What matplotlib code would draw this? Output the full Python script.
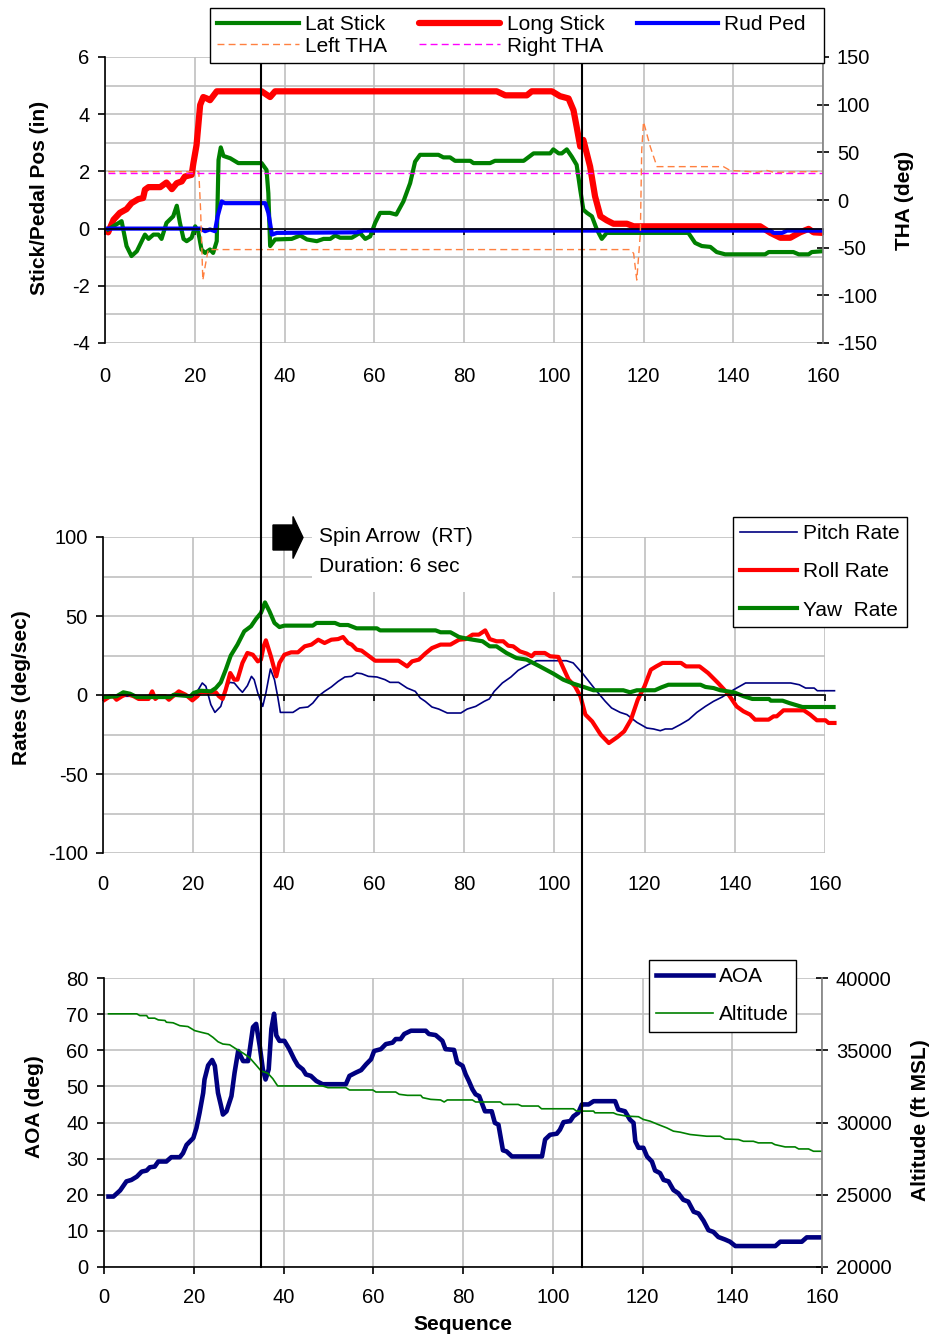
import matplotlib
matplotlib.use('Agg')
import matplotlib.pyplot as plt
import matplotlib.transforms as mtransforms
from matplotlib.lines import Line2D
from matplotlib.patches import Rectangle, FancyArrow
from matplotlib.ticker import MultipleLocator

plt.rcParams['font.family'] = ['Liberation Sans', 'DejaVu Sans']
plt.rcParams['axes.unicode_minus'] = False

# ---- top chart: stick / pedal positions and THA ----
long_x = [0.7, 1.9, 3.3, 4.8, 5.9, 7.4, 8.5, 8.9, 9.7, 12.3, 13.7, 14.9, 16.0, 17.1, 17.8, 19.3, 19.7, 20.4,
          21.2, 21.9, 22.7, 23.4, 24.9, 34.9, 36.8, 37.9, 87.3, 89.2, 94.0, 95.1, 99.6, 101.4, 103.3, 104.4,
          105.1, 105.9, 106.6, 108.1, 109.2, 110.4, 111.8, 113.3, 116.3, 117.8, 146.0, 148.3, 150.5, 152.7,
          154.9, 156.8, 157.9, 160.0]
long_stick = [-0.13, 0.31, 0.55, 0.68, 0.89, 1.03, 1.07, 1.36, 1.45, 1.45, 1.61, 1.38, 1.59, 1.65, 1.82, 1.88,
              2.29, 2.92, 4.32, 4.6, 4.55, 4.49, 4.8, 4.8, 4.6, 4.8, 4.8, 4.66, 4.66, 4.8, 4.8, 4.63, 4.55, 4.14,
              3.56, 2.87, 3.1, 2.17, 1.13, 0.43, 0.29, 0.17, 0.17, 0.08, 0.08, -0.15, -0.32, -0.32, -0.13, -0.01,
              -0.13, -0.15]

lat_x = [0.7, 3.7, 4.8, 5.9, 7.1, 8.9, 9.7, 10.8, 11.9, 12.6, 13.7, 15.2, 16.0, 16.7, 17.5, 18.2, 19.3, 20.1,
         20.8, 21.5, 22.3, 23.4, 24.1, 24.9, 25.3, 25.8, 26.4, 27.9, 29.7, 34.9, 36.0, 36.4, 36.8, 37.9, 41.6,
         43.5, 45.0, 47.2, 48.7, 50.2, 51.3, 52.4, 55.0, 56.8, 58.0, 59.1, 60.2, 61.3, 63.5, 64.9, 66.5, 68.0,
         69.1, 70.2, 74.3, 75.4, 76.9, 78.0, 81.4, 82.1, 85.8, 86.9, 93.3, 95.5, 99.2, 99.9, 101.1, 101.8,
         102.9, 104.0, 105.1, 105.9, 106.6, 107.4, 108.5, 109.6, 110.7, 111.8, 130.0, 131.5, 133.0, 134.9,
         136.3, 138.2, 147.1, 147.9, 153.4, 154.6, 156.8, 157.5, 160.0]
lat_stick = [-0.03, 0.26, -0.61, -0.96, -0.79, -0.21, -0.36, -0.21, -0.21, -0.36, 0.2, 0.43, 0.8, 0.2, -0.36,
             -0.44, -0.32, 0.08, -0.13, -0.73, -0.85, -0.73, -0.85, -0.44, 2.4, 2.84, 2.54, 2.46, 2.29, 2.29,
             2.05, 1.24, -0.61, -0.38, -0.36, -0.24, -0.38, -0.44, -0.36, -0.36, -0.24, -0.32, -0.32, -0.15,
             -0.36, -0.27, 0.2, 0.55, 0.55, 0.49, 0.95, 1.59, 2.34, 2.58, 2.58, 2.49, 2.49, 2.37, 2.37, 2.29,
             2.29, 2.37, 2.37, 2.63, 2.63, 2.77, 2.63, 2.63, 2.77, 2.52, 2.23, 1.36, 0.66, 0.55, 0.43, -0.03,
             -0.36, -0.15, -0.15, -0.5, -0.61, -0.64, -0.82, -0.9, -0.9, -0.82, -0.82, -0.9, -0.9, -0.82, -0.79]

rud_x = [0.7, 21.2, 22.3, 23.4, 24.5, 25.1, 26.0, 26.7, 35.7, 36.4, 37.2, 38.3, 56.1, 57.6, 148.3, 149.0,
         150.9, 152.0, 160.0]
rud_ped = [0, 0, -0.09, -0.03, -0.09, 0.43, 0.95, 0.89, 0.89, 0.55, -0.21, -0.15, -0.13, -0.07, -0.07, -0.15,
           -0.15, -0.07, -0.07]

left_tha_x = [0.7, 20.9, 21.3, 21.8, 22.3, 23.0, 117.0, 117.8, 118.5, 119.3, 119.6, 120.0, 120.7, 121.5,
              123.0, 137.8, 139.3, 143.0, 145.3, 147.5, 149.0, 160.0]
left_tha = [29.7, 29.7, -10, -84, -70, -52, -52, -56, -84, -35, 52, 82, 70, 56, 35, 35, 31, 30, 29, 31, 29, 30]

right_tha_x = [0.7, 160.0]
right_tha = [28, 28]

# ---- middle chart: body rates ----
pitch_x = [0.4, 19.4, 20.9, 22.0, 22.8, 23.9, 24.8, 26.1, 27.2, 28.0, 29.1, 30.2, 30.9, 32.0, 32.9, 33.5,
           34.3, 35.4, 36.1, 37.1, 38.0, 38.7, 39.3, 42.1, 43.6, 45.4, 46.5, 47.7, 49.1, 50.6, 52.1, 53.6,
           55.1, 56.2, 57.3, 58.8, 60.7, 62.5, 63.6, 65.5, 67.4, 69.2, 70.3, 71.4, 72.9, 74.4, 76.3, 79.3,
           80.7, 82.6, 84.5, 85.6, 86.7, 88.5, 90.4, 92.0, 94.2, 96.1, 102.7, 104.2, 106.5, 109.0, 111.3,
           112.7, 114.6, 116.1, 118.3, 120.5, 122.0, 123.5, 124.6, 126.1, 127.9, 129.8, 131.6, 133.5, 135.3,
           137.2, 139.8, 142.4, 152.4, 154.3, 155.7, 157.6, 158.3, 162.1]
pitch_rate = [-0.8, -0.8, 2.3, 7.6, 5.5, -6.1, -11.0, -7.2, 3.4, 8.0, 7.6, 3.8, 1.7, 5.9, 11.8, 9.7, 1.3,
              -7.2, 1.3, 16.5, 9.7, -0.8, -11.0, -11.0, -8.2, -7.6, -5.1, -0.8, 2.3, 5.1, 8.6, 11.4, 11.8,
              13.9, 13.5, 11.8, 11.4, 9.7, 8.0, 8.0, 4.4, 2.3, -1.9, -4.0, -7.6, -8.9, -11.4, -11.4, -8.9,
              -7.2, -4.0, -2.5, 2.3, 7.6, 11.4, 15.6, 19.2, 21.7, 21.7, 20.3, 12.9, 3.8, -4.0, -8.2, -11.0,
              -12.4, -17.3, -20.9, -21.5, -22.6, -21.5, -21.5, -18.8, -15.6, -11.0, -7.2, -4.0, -1.3, 3.4,
              7.6, 7.6, 6.5, 4.4, 4.4, 2.7, 2.7]

roll_x = [0.4, 1.6, 2.3, 3.0, 4.2, 5.3, 6.8, 7.9, 10.1, 10.9, 11.6, 12.3, 13.8, 14.6, 16.8, 18.3, 19.8, 20.9,
          21.6, 25.0, 25.7, 26.5, 27.2, 28.2, 29.1, 29.8, 30.9, 32.0, 33.2, 34.3, 35.0, 35.6, 36.1, 37.2,
          38.4, 39.1, 40.2, 41.7, 43.2, 44.7, 46.2, 47.7, 49.1, 50.6, 52.1, 53.2, 54.3, 55.1, 56.2, 57.3,
          58.8, 60.3, 65.5, 67.4, 68.5, 70.0, 71.4, 72.9, 74.8, 77.0, 78.9, 80.4, 81.9, 83.3, 84.7, 85.7,
          87.2, 88.7, 89.8, 90.9, 92.4, 93.9, 95.0, 95.7, 97.9, 99.1, 100.9, 102.0, 103.2, 104.6, 105.8,
          106.9, 108.4, 110.3, 112.1, 114.0, 115.5, 117.0, 118.5, 120.0, 121.4, 122.6, 124.0, 128.1, 129.2,
          132.2, 134.1, 136.3, 138.5, 140.4, 141.9, 143.4, 144.5, 147.5, 148.6, 149.3, 150.8, 155.3, 156.7,
          158.2, 160.1, 160.8, 162.1]
roll_rate = [-3.0, -0.8, -0.8, -3.0, -0.8, 0.8, -0.8, -2.5, -2.5, 2.3, -2.5, -0.8, -0.8, -3.0, 2.3, 0.2,
             -3.4, -0.8, 1.7, 1.7, -0.8, -2.5, 3.4, 13.9, 9.7, 9.7, 20.3, 26.6, 25.5, 21.3, 22.4, 30.8, 34.6,
             24.5, 11.8, 20.3, 25.5, 27.0, 27.0, 30.8, 31.9, 35.0, 32.9, 35.0, 35.4, 36.7, 32.9, 31.9, 28.7,
             28.1, 24.9, 21.7, 21.7, 18.1, 21.3, 22.4, 26.2, 29.7, 31.9, 31.9, 35.0, 35.4, 38.2, 38.2, 40.9,
             35.4, 34.0, 34.0, 31.2, 30.8, 27.6, 26.2, 24.5, 26.6, 26.6, 24.5, 24.1, 17.1, 9.7, 5.5, -0.8,
             -12.4, -16.7, -25.1, -30.4, -26.6, -23.0, -15.6, -3.0, 5.5, 16.0, 18.1, 20.3, 20.3, 18.1, 18.1,
             13.9, 7.6, 0.8, -7.2, -10.3, -12.4, -15.6, -15.6, -13.5, -13.5, -9.7, -9.7, -12.4, -16.0, -16.0,
             -17.7, -17.7]

yaw_x = [0.4, 3.0, 4.5, 6.0, 7.5, 14.9, 15.7, 19.4, 20.1, 21.6, 23.9, 25.0, 26.1, 27.2, 28.3, 29.8, 31.3,
         32.8, 33.9, 35.0, 35.9, 36.9, 38.0, 39.1, 40.2, 46.5, 47.3, 51.4, 52.5, 54.3, 56.2, 60.7, 61.4, 73.7,
         74.8, 77.0, 78.9, 81.1, 84.1, 85.7, 87.2, 89.4, 91.6, 93.9, 96.8, 99.8, 102.0, 104.2, 106.5, 108.7,
         115.3, 116.8, 118.3, 122.3, 123.8, 125.3, 132.4, 133.5, 135.3, 136.8, 139.8, 142.0, 143.9, 147.6,
         148.0, 150.6, 152.1, 155.0, 161.9]
yaw_rate = [-1.3, -0.8, 1.7, 0.8, -1.3, -1.3, 0.2, -0.8, 1.3, 2.7, 2.3, 4.4, 8.0, 16.0, 24.9, 31.9, 40.3,
            43.5, 48.1, 51.9, 58.6, 52.9, 45.6, 43.0, 43.9, 43.9, 45.6, 45.6, 44.3, 44.3, 42.2, 42.2, 40.9,
            40.9, 39.7, 39.7, 36.7, 35.4, 34.0, 30.8, 30.8, 26.6, 23.4, 22.4, 18.1, 13.5, 9.7, 7.2, 5.1, 3.0,
            3.0, 1.7, 3.0, 3.0, 4.9, 6.5, 6.5, 5.1, 4.4, 3.0, 1.7, -0.8, -2.5, -2.5, -3.6, -3.6, -5.1, -7.6,
            -7.6]

# ---- bottom chart: AOA and altitude ----
aoa_x = [1.0, 2.1, 3.6, 5.0, 6.1, 7.3, 8.4, 9.5, 10.2, 11.3, 12.1, 13.9, 15.0, 16.9, 17.6, 18.4, 19.9, 20.6,
         21.3, 22.1, 22.4, 23.2, 24.1, 24.7, 25.4, 26.1, 26.5, 27.3, 28.4, 29.1, 29.9, 31.0, 32.1, 32.4, 33.2,
         33.9, 34.7, 35.4, 36.0, 36.7, 37.3, 37.9, 38.4, 39.1, 40.2, 41.3, 42.4, 43.2, 44.3, 45.0, 46.1, 47.3,
         48.7, 53.9, 54.7, 56.1, 57.3, 58.4, 59.5, 60.2, 61.7, 62.8, 64.3, 65.0, 66.1, 66.9, 68.4, 71.7, 72.4,
         73.9, 75.4, 76.1, 78.0, 78.7, 79.9, 80.6, 81.3, 82.1, 82.8, 83.6, 84.9, 86.4, 87.1, 87.9, 88.9, 89.7,
         90.9, 97.6, 98.3, 99.4, 100.9, 101.6, 102.4, 103.9, 104.6, 105.7, 106.5, 108.0, 109.1, 113.9, 114.6,
         116.1, 117.2, 118.0, 118.4, 119.1, 120.2, 121.0, 122.1, 122.8, 123.9, 124.7, 125.8, 126.9, 128.0,
         129.1, 130.2, 131.4, 132.5, 133.6, 134.7, 135.8, 136.9, 138.4, 139.5, 140.7, 149.6, 150.7, 155.5,
         156.6, 160.0]
aoa = [19.5, 19.5, 21.2, 23.7, 24.1, 25.0, 26.4, 26.7, 27.6, 27.8, 29.2, 29.2, 30.4, 30.4, 31.5, 33.8, 35.7,
       38.5, 42.7, 48.2, 51.9, 55.8, 57.3, 55.7, 48.2, 44.5, 42.2, 43.1, 47.3, 53.8, 59.8, 57.0, 57.0, 59.4,
       66.4, 67.3, 61.2, 54.7, 51.9, 54.7, 65.9, 70.1, 64.1, 62.6, 62.6, 60.3, 57.5, 55.8, 54.7, 53.3, 52.9,
       51.5, 50.6, 50.6, 52.9, 53.8, 54.5, 56.1, 57.5, 59.8, 60.3, 61.7, 62.1, 63.1, 63.1, 64.5, 65.4, 65.4,
       64.5, 64.2, 62.6, 60.3, 60.1, 56.6, 55.7, 53.3, 51.5, 49.2, 47.8, 47.3, 43.1, 43.1, 39.9, 39.4, 32.3,
       32.0, 30.6, 30.6, 35.3, 36.6, 36.9, 38.0, 40.1, 40.4, 41.7, 42.7, 45.0, 45.0, 45.9, 45.9, 43.6, 43.1,
       40.8, 39.9, 34.8, 33.0, 33.0, 30.6, 29.2, 26.7, 26.0, 24.1, 23.7, 21.3, 20.4, 18.6, 18.1, 15.3, 14.8,
       12.8, 10.2, 9.7, 8.3, 7.6, 7.0, 5.8, 5.8, 7.0, 7.0, 8.2, 8.2]

alt_x = [1.0, 7.3, 8.0, 9.5, 9.9, 11.3, 12.1, 13.6, 13.9, 15.4, 16.9, 18.7, 20.2, 21.7, 23.2, 24.3, 25.4, 26.5,
         28.0, 29.5, 31.0, 32.4, 33.9, 35.0, 36.5, 37.6, 38.7, 48.7, 49.9, 53.9, 54.7, 59.9, 60.6, 65.0, 65.8,
         67.6, 70.6, 71.0, 72.8, 75.0, 75.8, 76.5, 82.1, 82.8, 88.3, 89.0, 92.3, 93.1, 96.8, 97.5, 104.6,
         105.3, 109.1, 109.4, 113.5, 114.3, 116.5, 119.1, 120.2, 121.7, 123.5, 125.4, 126.9, 128.4, 130.6,
         134.3, 137.3, 138.4, 141.4, 142.5, 144.7, 145.8, 148.8, 149.5, 151.8, 154.0, 154.8, 157.0, 158.1,
         160.0]
altitude = [37520, 37520, 37400, 37400, 37220, 37220, 37100, 37060, 36940, 36900, 36700, 36640, 36360, 36240,
            36130, 35890, 35590, 35430, 35380, 35080, 34800, 34500, 33970, 33570, 33410, 33040, 32530, 32530,
            32410, 32410, 32250, 32250, 32110, 32110, 31950, 31880, 31880, 31720, 31600, 31560, 31420, 31560,
            31560, 31420, 31420, 31250, 31250, 31140, 31140, 30950, 30950, 30790, 30790, 30670, 30670, 30560,
            30440, 30400, 30210, 30090, 29860, 29630, 29400, 29330, 29170, 29050, 29050, 28860, 28820, 28700,
            28700, 28590, 28590, 28470, 28310, 28310, 28170, 28170, 28010, 28010]

# spin entry / recovery markers
event_seq = [35, 106.5]

W, H = 932, 1338
GRID = '#c0c0c0'
TICK_FS = 14.5
GREEN, RED, BLUE, NAVY = '#008000', '#ff0000', '#0000ff', '#000080'


def fx(px):
    return px / W


def fy(py):
    return 1 - py / H


def box(l, t, r, b):
    return [fx(l), fy(b), (r - l) / W, (b - t) / H]


def style(ax, ylim, ymajor, yminor):
    ax.set_xlim(0, 160)
    ax.set_ylim(*ylim)
    ax.xaxis.set_major_locator(MultipleLocator(20))
    ax.yaxis.set_major_locator(MultipleLocator(ymajor))
    ax.yaxis.set_minor_locator(MultipleLocator(yminor))
    ax.grid(True, which='major', axis='x', color=GRID, lw=1.2)
    ax.grid(True, which='both', axis='y', color=GRID, lw=1.2)
    ax.set_axisbelow(True)
    ax.tick_params(axis='y', which='major', direction='out', length=5, width=1.2, pad=6, labelsize=TICK_FS)
    ax.tick_params(axis='y', which='minor', length=0)
    ax.spines['top'].set_visible(False)
    ax.spines['right'].set_visible(False)
    ax.spines['left'].set_linewidth(1.2)


def zero_xaxis(ax, pad):
    # x axis crosses at 0, labels stay at the bottom
    ax.spines['bottom'].set_position(('data', 0))
    ax.spines['bottom'].set_linewidth(1.2)
    ax.tick_params(axis='x', direction='out', length=4, width=1.2, labelbottom=False)
    sec = ax.secondary_xaxis('bottom')
    sec.set_xticks(range(0, 161, 20))
    sec.tick_params(length=0, pad=pad, labelsize=TICK_FS)
    sec.spines['bottom'].set_visible(False)


def right_axis(ax, ylim, step):
    axr = ax.twinx()
    axr.set_ylim(*ylim)
    axr.yaxis.set_major_locator(MultipleLocator(step))
    axr.tick_params(axis='y', direction='inout', length=8, width=1.2, pad=6, labelsize=TICK_FS)
    for s in ['top', 'bottom', 'left']:
        axr.spines[s].set_visible(False)
    axr.spines['right'].set_color('#808080')
    axr.spines['right'].set_linewidth(1.2)
    return axr


leg_kw = dict(frameon=True, fancybox=False, framealpha=1, edgecolor='black', borderaxespad=0, fontsize=15)

fig = plt.figure(figsize=(W / 100, H / 100), dpi=100)

# top
ax1 = fig.add_axes(box(105, 57, 823, 343))
style(ax1, (-4, 6), 2, 1)
zero_xaxis(ax1, 17)
ax1r = right_axis(ax1, (-150, 150), 50)
l_long, = ax1.plot(long_x, long_stick, color=RED, lw=4.5, solid_capstyle='round')
l_lat, = ax1.plot(lat_x, lat_stick, color=GREEN, lw=3)
l_rud, = ax1.plot(rud_x, rud_ped, color=BLUE, lw=3)
l_lt, = ax1r.plot(left_tha_x, left_tha, color='#ff8040', lw=1, dashes=(5, 3))
l_rt, = ax1r.plot(right_tha_x, right_tha, color='#ff00ff', lw=1, dashes=(5, 3))
leg1 = fig.legend([l_lat, l_lt, l_long, l_rt, l_rud],
                  ['Lat Stick', 'Left THA', 'Long Stick', 'Right THA', 'Rud Ped  '],
                  loc='upper left', bbox_to_anchor=(fx(210), fy(8)), ncol=3, handlelength=3.9,
                  handletextpad=0.3, columnspacing=1.55, labelspacing=0.12, borderpad=0.35, **leg_kw)
leg1.get_frame().set_linewidth(1.0)

# middle
ax2 = fig.add_axes(box(103, 537, 825, 853))
style(ax2, (-100, 100), 50, 25)
zero_xaxis(ax2, 16)
l_pitch, = ax2.plot(pitch_x, pitch_rate, color=NAVY, lw=1.2, clip_on=False)
l_roll, = ax2.plot(roll_x, roll_rate, color=RED, lw=3, clip_on=False)
l_yaw, = ax2.plot(yaw_x, yaw_rate, color=GREEN, lw=3, clip_on=False)
leg2 = fig.legend([l_pitch, l_roll, l_yaw], ['Pitch Rate', 'Roll Rate', 'Yaw  Rate'],
                  loc='upper left', bbox_to_anchor=(fx(733), fy(517)), handlelength=2.7,
                  handletextpad=0.3, labelspacing=0.92, borderpad=0.35, **leg_kw)
leg2.get_frame().set_linewidth(1.0)

# bottom
ax3 = fig.add_axes(box(104, 978, 822, 1267))
style(ax3, (0, 80), 10, 10)
ax3.spines['bottom'].set_linewidth(1.2)
ax3.tick_params(axis='x', direction='out', length=5, width=1.2, pad=10, labelsize=TICK_FS)
ax3r = right_axis(ax3, (20000, 40000), 5000)
l_aoa, = ax3.plot(aoa_x, aoa, color=NAVY, lw=3.3)
l_alt, = ax3r.plot(alt_x, altitude, color=GREEN, lw=1.2)
leg3 = fig.legend([l_aoa, l_alt], ['AOA', 'Altitude'],
                  loc='upper left', bbox_to_anchor=(fx(649), fy(960)), handlelength=2.7,
                  handletextpad=0.3, labelspacing=0.92, borderpad=0.35, **leg_kw)
leg3.get_frame().set_linewidth(1.0)

# event lines through all three charts
trans = mtransforms.blended_transform_factory(ax3.transData, fig.transFigure)
for xe in event_seq:
    fig.add_artist(Line2D([xe, xe], [fy(60), fy(1267)], transform=trans, color='black', lw=1.5, zorder=4))

# spin note
fig.add_artist(Rectangle((fx(312), fy(592)), (572 - 312) / W, (592 - 495) / H, transform=fig.transFigure,
                         facecolor='white', edgecolor='none', zorder=1))
fig.add_artist(FancyArrow(fx(273), fy(537.5), (303 - 273) / W, 0, width=25 / H, head_width=42 / H,
                          head_length=10 / W, length_includes_head=True, transform=fig.transFigure,
                          color='black', zorder=2))
fig.text(fx(319), fy(537), 'Spin Arrow  (RT)', fontsize=15, ha='left', va='center', zorder=3)
fig.text(fx(319), fy(566), 'Duration: 6 sec', fontsize=15, ha='left', va='center', zorder=3)

# axis titles
lab = dict(fontsize=15, fontweight='bold', ha='center', va='center')
fig.text(fx(40), fy(198), 'Stick/Pedal Pos (in)', rotation=90, **lab)
fig.text(fx(905), fy(200), 'THA (deg)', rotation=90, **lab)
fig.text(fx(22), fy(688), 'Rates (deg/sec)', rotation=90, **lab)
fig.text(fx(35), fy(1107), 'AOA (deg)', rotation=90, **lab)
fig.text(fx(920), fy(1120), 'Altitude (ft MSL)', rotation=90, **lab)
fig.text(fx(463), fy(1325), 'Sequence', **lab)

fig.savefig('out.png', dpi=100)
